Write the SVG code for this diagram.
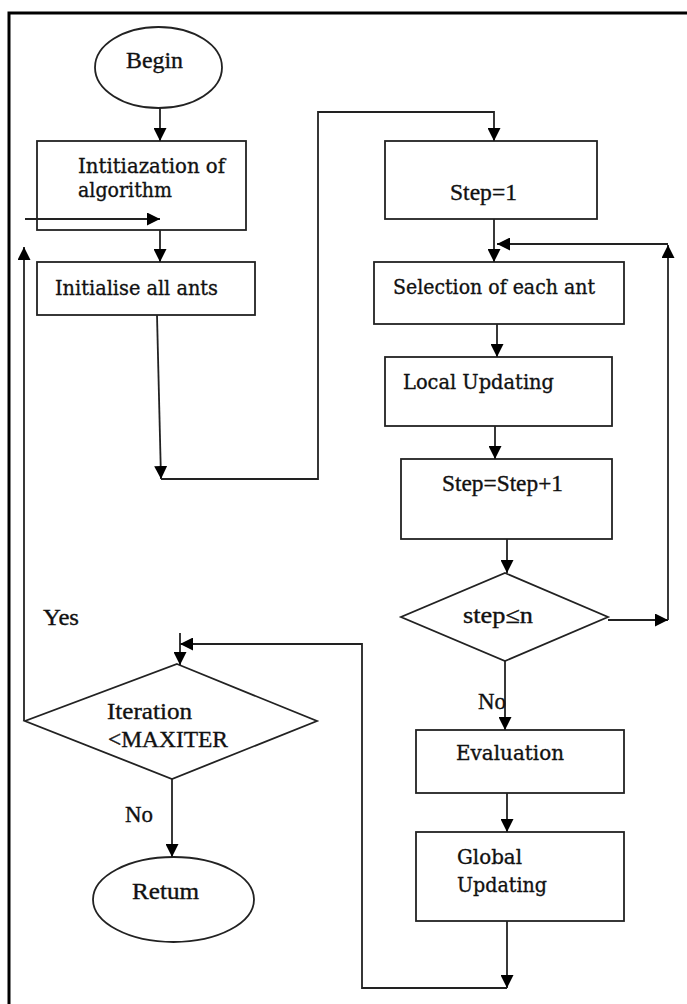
<svg xmlns="http://www.w3.org/2000/svg" width="687" height="1004" viewBox="0 0 687 1004">
<style>
.shape{fill:#fff;stroke:#222;stroke-width:1.8}
.line{fill:none;stroke:#222;stroke-width:1.8}
.tn{font-family:"Liberation Serif","Times New Roman",serif;font-size:23px;fill:#111;stroke:#111;stroke-width:0.35}
.cb{font-family:"DejaVu Serif","Liberation Serif",serif;font-size:20px;fill:#111;stroke:#111;stroke-width:0.35}
</style>
<defs>
<marker id="ah" markerUnits="userSpaceOnUse" markerWidth="13" markerHeight="13" viewBox="0 0 13 13" refX="13" refY="6.5" orient="auto">
<path d="M0,0 L13,6.5 L0,13 z" fill="#000"/>
</marker>
</defs>
<rect width="687" height="1004" fill="#fff"/>
<polyline points="9,1004 9,13 687,13" fill="none" stroke="#000" stroke-width="3"/>

<g id="begin">
<ellipse class="shape" cx="158.5" cy="67.5" rx="63.5" ry="40.5"/>
<text class="tn" x="126" y="68" textLength="57" lengthAdjust="spacingAndGlyphs">Begin</text>
</g>
<g id="init-algorithm">
<rect class="shape" x="37" y="141" width="209" height="89"/>
<text class="cb" x="78" y="173" textLength="147" lengthAdjust="spacingAndGlyphs">Intitiazation of</text>
<text class="cb" x="78" y="197" textLength="94" lengthAdjust="spacingAndGlyphs">algorithm</text>
</g>
<g id="init-ants">
<rect class="shape" x="37" y="262" width="218" height="53"/>
<text class="cb" x="55" y="295" textLength="163" lengthAdjust="spacingAndGlyphs">Initialise all ants</text>
</g>
<g id="step1">
<rect class="shape" x="385" y="141" width="212" height="78"/>
<text class="tn" x="450" y="200" textLength="67" lengthAdjust="spacingAndGlyphs">Step=1</text>
</g>
<g id="selection">
<rect class="shape" x="374" y="262" width="250" height="62"/>
<text class="cb" x="393" y="294" textLength="202" lengthAdjust="spacingAndGlyphs">Selection of each ant</text>
</g>
<g id="local-updating">
<rect class="shape" x="385" y="357" width="227" height="69"/>
<text class="cb" x="403" y="389" textLength="151" lengthAdjust="spacingAndGlyphs">Local Updating</text>
</g>
<g id="step-inc">
<rect class="shape" x="401" y="459" width="211" height="80"/>
<text class="tn" x="442" y="491" textLength="121" lengthAdjust="spacingAndGlyphs">Step=Step+1</text>
</g>
<g id="step-check">
<polygon class="shape" points="505,573 608,617 505,661 401,617"/>
<text class="tn" x="463" y="623" textLength="70" lengthAdjust="spacingAndGlyphs">step≤n</text>
</g>
<g id="evaluation">
<rect class="shape" x="416" y="730" width="208" height="63"/>
<text class="cb" x="456" y="760" textLength="108" lengthAdjust="spacingAndGlyphs">Evaluation</text>
</g>
<g id="global-updating">
<rect class="shape" x="416" y="832" width="208" height="89"/>
<text class="cb" x="457" y="864" textLength="65" lengthAdjust="spacingAndGlyphs">Global</text>
<text class="cb" x="457" y="892" textLength="90" lengthAdjust="spacingAndGlyphs">Updating</text>
</g>
<g id="iteration-check">
<polygon class="shape" points="177,664 317,721 172,779 25,721"/>
<text class="tn" x="107" y="719" textLength="85" lengthAdjust="spacingAndGlyphs">Iteration</text>
<text class="tn" x="108" y="747" textLength="120" lengthAdjust="spacingAndGlyphs">&lt;MAXITER</text>
</g>
<g id="return">
<ellipse class="shape" cx="173.5" cy="899.5" rx="80.5" ry="42.5"/>
<text class="tn" x="132" y="899" textLength="67" lengthAdjust="spacingAndGlyphs">Retum</text>
</g>

<g id="connectors">
<line class="line" x1="160" y1="108" x2="160" y2="141" marker-end="url(#ah)"/>
<line class="line" x1="25" y1="219" x2="160" y2="219" marker-end="url(#ah)"/>
<line class="line" x1="160" y1="230" x2="160" y2="262" marker-end="url(#ah)"/>
<line class="line" x1="24" y1="721" x2="24" y2="247" marker-end="url(#ah)"/>
<line class="line" x1="157" y1="315" x2="161" y2="479" marker-end="url(#ah)"/>
<polyline class="line" points="161,479 318,479 318,112 494,112 494,141" marker-end="url(#ah)"/>
<line class="line" x1="494" y1="219" x2="494" y2="262" marker-end="url(#ah)"/>
<polyline class="line" points="608,620 668,620" marker-end="url(#ah)"/>
<line class="line" x1="668" y1="620" x2="668" y2="245" marker-end="url(#ah)"/>
<line class="line" x1="668" y1="244" x2="497" y2="244" marker-end="url(#ah)"/>
<line class="line" x1="497" y1="324" x2="497" y2="357" marker-end="url(#ah)"/>
<line class="line" x1="495" y1="426" x2="495" y2="459" marker-end="url(#ah)"/>
<line class="line" x1="507" y1="539" x2="507" y2="573" marker-end="url(#ah)"/>
<line class="line" x1="505" y1="661" x2="505" y2="730" marker-end="url(#ah)"/>
<line class="line" x1="507" y1="793" x2="507" y2="832" marker-end="url(#ah)"/>
<line class="line" x1="507" y1="921" x2="507" y2="988" marker-end="url(#ah)"/>
<polyline class="line" points="507,988 362,988 362,644 180,644" marker-end="url(#ah)"/>
<line class="line" x1="180" y1="633" x2="180" y2="665" marker-end="url(#ah)"/>
<line class="line" x1="172" y1="779" x2="172" y2="857" marker-end="url(#ah)"/>
<text class="tn" x="43" y="625" textLength="36" lengthAdjust="spacingAndGlyphs">Yes</text>
<text class="tn" x="125" y="822" textLength="28" lengthAdjust="spacingAndGlyphs">No</text>
<text class="tn" x="478" y="709" textLength="28" lengthAdjust="spacingAndGlyphs">No</text>
</g>
</svg>
